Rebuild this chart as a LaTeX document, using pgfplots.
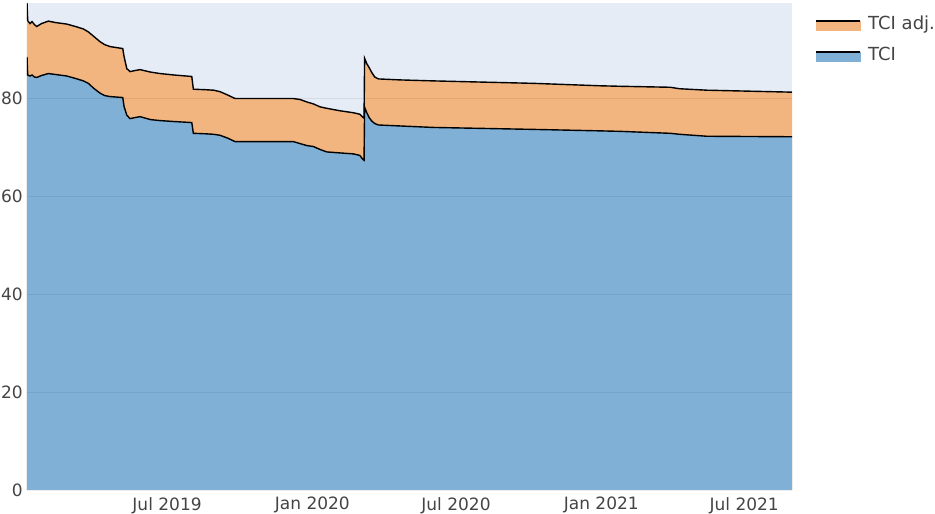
\documentclass[border=0pt]{standalone}
\usepackage{pgfplots}
\pgfplotsset{compat=1.18}
\usepackage{fontspec}
\setmainfont{DejaVu Sans}
\definecolor{bgc}{HTML}{E5ECF6}
\definecolor{bluefill}{HTML}{80B0D6}
\definecolor{orfill}{HTML}{F2B580}
\definecolor{tickc}{HTML}{444444}

\pgfplotstableread{
x y
3.6 99.4
4.5 95.8
7.4 95.2
10 95.6
13 95.0
15.9 94.6
22 95.2
30.6 95.7
40 95.4
53.9 95.1
65 94.6
75 94.1
81.3 93.5
88 92.6
96.1 91.5
102 90.9
108.8 90.5
124.9 90.1
126.5 88.5
130 86.0
134.1 85.4
140 85.6
146.8 85.8
160 85.3
172.1 85.0
190 84.7
212.3 84.4
214.3 81.8
230 81.7
240 81.6
248.1 81.3
258 80.6
267.2 79.9
341 79.9
349.5 79.7
358 79.2
366.4 78.8
374.8 78.2
383.3 77.9
400 77.4
417 77.0
425 76.7
428.9 76.1
430.5 75.9
431.2 88.1
434 87.0
437 86.2
440.3 85.2
444 84.3
448.7 83.9
476.2 83.7
518 83.5
644.7 83.0
729.6 82.5
755 82.4
818.3 82.2
830 81.9
864.8 81.6
972.5 81.2
}\adjtable

\pgfplotstableread{
x y
3.6 88.4
4.5 84.7
7.4 84.5
10 84.7
13 84.3
15.9 84.2
22 84.6
30.6 85.0
40 84.8
53.9 84.5
65 84.0
75 83.5
81.3 83.0
88 82.0
96.1 81.0
102 80.5
108.8 80.3
124.9 80.1
126.5 78.3
130 76.5
134.1 75.8
140 76.0
146.8 76.2
160 75.6
172.1 75.4
190 75.2
212.3 75.0
214.3 72.8
230 72.7
240 72.6
248.1 72.4
258 71.8
267.2 71.1
341 71.1
349.5 70.7
358 70.3
366.4 70.1
374.8 69.5
383.3 69.0
400 68.8
417 68.6
425 68.3
428.9 67.5
430.5 67.3
431.2 78.1
434 77.0
437 76.0
440.3 75.3
444 74.8
448.7 74.5
476.2 74.3
518 74.0
644.7 73.6
729.6 73.3
755 73.2
818.3 72.8
830 72.6
864.8 72.2
972.5 72.1
}\tcitable

\begin{document}
\begin{tikzpicture}
\path[use as bounding box] (-27pt,-24pt) rectangle (908pt,490pt);
\begin{axis}[
  at={(0,0)}, anchor=south west,
  width=765pt, height=487pt, scale only axis,
  xmin=3.6, xmax=972.5, ymin=0, ymax=99.4,
  axis background/.style={fill=bgc},
  axis line style={draw=none},
  axis on top,
  ymajorgrids,
  major grid style={black, opacity=0.07, line width=0.8pt},
  major tick length=0pt,
  xtick={181,365,547,731,912},
  xticklabels={Jul 2019,Jan 2020,Jul 2020,Jan 2021,Jul 2021},
  ytick={0,20,40,60,80},
  /pgf/number format/assume math mode=true,
  tick label style={font=\fontsize{17}{19}\selectfont, text=tickc},
  yticklabel style={inner sep=0pt, xshift=-4pt},
  xticklabel style={inner sep=0pt, yshift=-7pt},
  legend style={at={(rel axis cs:1,1)}, anchor=north west, xshift=20pt, yshift=-9pt,
    draw=none, fill=none, font=\fontsize{18}{20}\selectfont, text=tickc,
    row sep=12pt, column sep=5pt, cells={anchor=west}},
  legend cell align=left,
]
\addplot[draw=none, fill=orfill, forget plot] table[x=x,y=y]{\adjtable} \closedcycle;
\addplot[draw=none, fill=bluefill, forget plot] table[x=x,y=y]{\tcitable} \closedcycle;
\addplot[black, line width=1.4pt, forget plot] table[x=x,y=y]{\adjtable};
\addplot[black, line width=1.4pt, forget plot] table[x=x,y=y]{\tcitable};
\addlegendimage{legend image code/.code={\fill[orfill] (0pt,-6pt) rectangle (44pt,3pt); \draw[black,line width=2pt] (0pt,3pt)--(44pt,3pt);}}
\addlegendentry{TCI adj.}
\addlegendimage{legend image code/.code={\fill[bluefill] (0pt,-6pt) rectangle (44pt,3pt); \draw[black,line width=2pt] (0pt,3pt)--(44pt,3pt);}}
\addlegendentry{TCI}
\end{axis}
\end{tikzpicture}
\end{document}
